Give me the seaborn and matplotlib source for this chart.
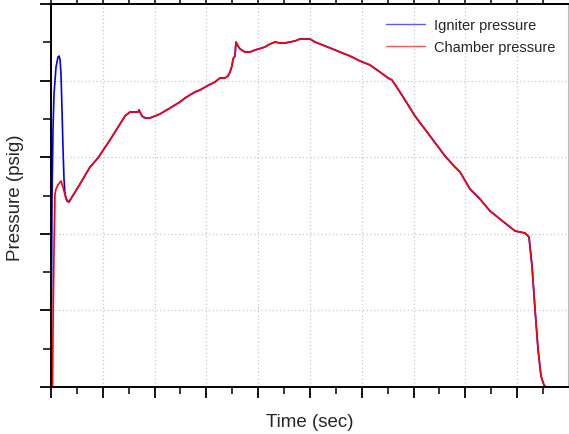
import numpy as np
import pandas as pd
import matplotlib
matplotlib.use("Agg")
import matplotlib.pyplot as plt
from matplotlib.lines import Line2D
from matplotlib.ticker import MultipleLocator, NullFormatter
import seaborn as sns

# ---- data (time in sec, pressure in psig) ----
ign_start_t = [0.000, 0.010, 0.019, 0.039, 0.058, 0.097, 0.135, 0.154, 0.174,
               0.193, 0.212, 0.232, 0.251, 0.270, 0.309]
ign_start_p = [0.0, 114.9, 245.4, 336.8, 382.5, 417.8, 430.8, 432.1, 428.2,
               408.6, 362.9, 310.7, 271.5, 252.0, 242.8]

ch_start_t = [0.029, 0.039, 0.058, 0.077, 0.097, 0.135, 0.174, 0.193, 0.212,
              0.251, 0.290]
ch_start_p = [0.0, 75.7, 180.2, 252.0, 258.5, 263.7, 267.6, 268.9, 265.0,
              255.9, 245.4]

common_t = [0.347, 0.405, 0.560, 0.753, 0.907, 1.139, 1.332, 1.429, 1.525, 1.680,
            1.699, 1.757, 1.815, 1.911, 2.008, 2.104, 2.297, 2.490, 2.587, 2.780,
            2.876, 3.012, 3.166, 3.263, 3.359, 3.417, 3.456, 3.494, 3.514, 3.552,
            3.571, 3.610, 3.649, 3.745, 3.842, 3.938, 4.073, 4.131, 4.228, 4.324,
            4.421, 4.517, 4.614, 4.710, 4.807, 4.903, 5.000, 5.097, 5.193, 5.386,
            5.579, 5.772, 5.965, 6.158, 6.351, 6.506, 6.583, 6.737, 7.027, 7.317,
            7.606, 7.799, 7.896, 8.089, 8.282, 8.475, 8.668, 8.958, 9.151, 9.228,
            9.286, 9.344, 9.402, 9.459, 9.517, 9.556, 9.981]
common_p = [241.5, 248.0, 265.0, 287.2, 299.0, 322.5, 343.3, 353.8, 359.0, 359.0,
            361.6, 353.8, 351.2, 351.2, 353.8, 356.4, 364.2, 372.1, 377.3, 385.1,
            387.7, 393.0, 398.2, 403.4, 403.4, 406.0, 411.2, 419.1, 428.2, 432.1,
            450.4, 445.2, 441.3, 437.3, 437.3, 439.9, 442.6, 443.9, 447.8, 450.4,
            449.1, 449.1, 450.4, 451.7, 454.3, 454.3, 454.3, 450.4, 447.8, 442.6,
            437.3, 432.1, 425.6, 420.4, 411.2, 403.4, 400.8, 385.1, 353.8, 327.7,
            301.6, 287.2, 280.7, 258.5, 245.4, 229.8, 219.3, 203.7, 201.0, 195.8,
            158.0, 101.8, 49.6, 14.4, 2.6, 0.0, 0.0]

series_names = ["Igniter pressure", "Chamber pressure"]
series_colors = ["#0000ff", "#ff0000"]

# ---- build long table ----
ign_t = ign_start_t + common_t
ign_p = ign_start_p + common_p
ch_t = ch_start_t + common_t
ch_p = ch_start_p + common_p
df = pd.DataFrame({
    "time": ign_t + ch_t,
    "pressure": ign_p + ch_p,
    "series": [series_names[0]] * len(ign_t) + [series_names[1]] * len(ch_t),
})

sns.set_style("white")
plt.rcParams["font.family"] = ["Liberation Sans", "DejaVu Sans"]

fig = plt.figure(figsize=(5.69, 4.35), dpi=100)
ax = fig.add_axes([51 / 569, 47 / 435, (568 - 51) / 569, (388 - 5) / 435])

sns.lineplot(data=df, x="time", y="pressure", hue="series",
             hue_order=series_names,
             palette=dict(zip(series_names, series_colors)),
             estimator=None, sort=False, lw=1.2, ax=ax, legend=False)

ax.set_xlim(0, 9.981)
ax.set_ylim(0, 500)
ax.xaxis.set_major_locator(MultipleLocator(1))
ax.xaxis.set_minor_locator(MultipleLocator(0.5))
ax.yaxis.set_major_locator(MultipleLocator(100))
ax.yaxis.set_minor_locator(MultipleLocator(50))
ax.xaxis.set_major_formatter(NullFormatter())
ax.yaxis.set_major_formatter(NullFormatter())

ax.grid(True, which="major", color="#c8c8c8", linestyle=(0, (1, 2)), lw=0.9)
ax.tick_params(axis="both", which="major", direction="out", length=8, width=1.3,
               color="black", bottom=True, left=True, top=False, right=False)
ax.tick_params(axis="y", which="minor", direction="out", length=6, width=1.3,
               left=True)
ax.tick_params(axis="x", which="minor", direction="out", length=5, width=1.3,
               bottom=True)

for s in ["left", "bottom", "top"]:
    ax.spines[s].set_color("black")
    ax.spines[s].set_linewidth(1.4)
ax.spines["right"].set_color("#bbbbbb")
ax.spines["right"].set_linewidth(0.8)

sec = ax.secondary_xaxis("top")
sec.xaxis.set_major_locator(MultipleLocator(0.5))
sec.xaxis.set_major_formatter(NullFormatter())
sec.tick_params(direction="out", length=4, width=1.3)
sec.spines["top"].set_linewidth(1.4)

ax.set_xlabel("Time (sec)", fontsize=13.5, va="center", ha="center")
ax.set_ylabel("Pressure (psig)", fontsize=13.5, va="center", ha="center")
ax.xaxis.set_label_coords((310 - 51) / 517, (388 - 423) / 383)
ax.yaxis.set_label_coords((16 - 51) / 517, (388 - 198) / 383)

handles = [Line2D([], [], color=c, lw=1.0, alpha=0.65) for c in series_colors]
leg = ax.legend(handles, series_names, loc="upper right", frameon=False,
                fontsize=10.5, handlelength=2.7, handletextpad=0.6,
                labelspacing=0.55, borderaxespad=0, borderpad=0)
leg.set_bbox_to_anchor((555 / 569, 1 - 19 / 435), transform=fig.transFigure)

fig.savefig("out.png", dpi=100)
